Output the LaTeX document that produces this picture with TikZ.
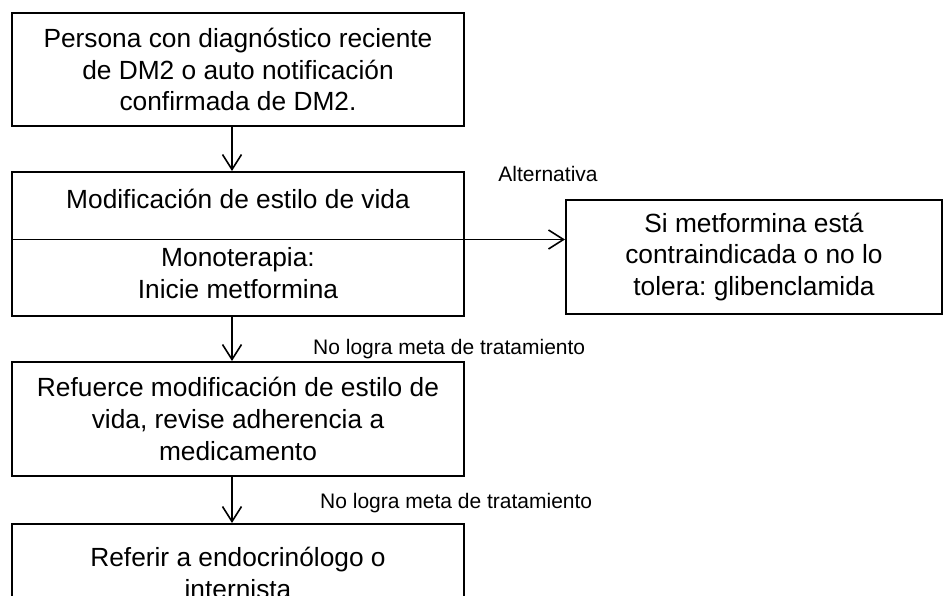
\documentclass[tikz,border=0pt]{standalone}
\usepackage{fontspec}
\setmainfont{Liberation Sans}
\usetikzlibrary{arrows.meta}
\frenchspacing
\tikzset{
  boxnode/.style={draw=black, line width=2pt, rectangle, inner sep=0pt, align=center,
    font=\fontsize{26.3}{31.7}\selectfont},
  txt/.style={inner sep=0pt, align=center, font=\fontsize{26.3}{31.7}\selectfont},
  lbl/.style={inner sep=0pt, font=\fontsize{21}{25}\selectfont},
  arr/.style={line width=1.6pt, -{Straight Barb[length=15pt,width=19pt]}}
}
\begin{document}
\begin{tikzpicture}[x=1pt,y=-1pt]
\useasboundingbox (0,0) rectangle (946,595);
\fill[white] (0,0) rectangle (946,595);

\node[boxnode, minimum width=452, minimum height=113] (b1) at (238,69.5)
  {Persona con diagnóstico reciente\\de DM2 o auto notificación\\confirmada de DM2.};

\node[boxnode, minimum width=452, minimum height=144] (b2) at (238,244) {};
\node[txt, anchor=base] (t2a) at (238,208) {Modificación de estilo de vida};
\node[txt, anchor=base] (t2b) at (238,298) {Monoterapia:\\Inicie metformina};

\node[boxnode, minimum width=376, minimum height=114] (alt) at (754,257)
  {Si metformina está\\contraindicada o no lo\\tolera: glibenclamida};

\node[boxnode, minimum width=452, minimum height=114] (b3) at (238,419)
  {Refuerce modificación de estilo de\\vida, revise adherencia a\\medicamento};

\node[boxnode, minimum width=452, minimum height=116] (b4) at (238,582) {};
\node[txt, anchor=base] (t4) at (238,598) {Referir a endocrinólogo o\\internista};

\node[lbl] (lalt) at (548,174) {Alternativa};
\node[lbl, anchor=base west] (l1) at (313,354) {No logra meta de tratamiento};
\node[lbl, anchor=base west] (l2) at (320,508) {No logra meta de tratamiento};

\coordinate (dv) at (12,239.5);
\draw[arr] ([xshift=-6pt]b1.south) -- ([xshift=-6pt]b2.north);
\draw[arr] (dv) -- (dv -| alt.west);
\draw[arr] ([xshift=-6pt]b2.south) -- ([xshift=-6pt]b3.north);
\draw[arr] ([xshift=-6pt]b3.south) -- ([xshift=-6pt]b4.north);
\end{tikzpicture}
\end{document}
